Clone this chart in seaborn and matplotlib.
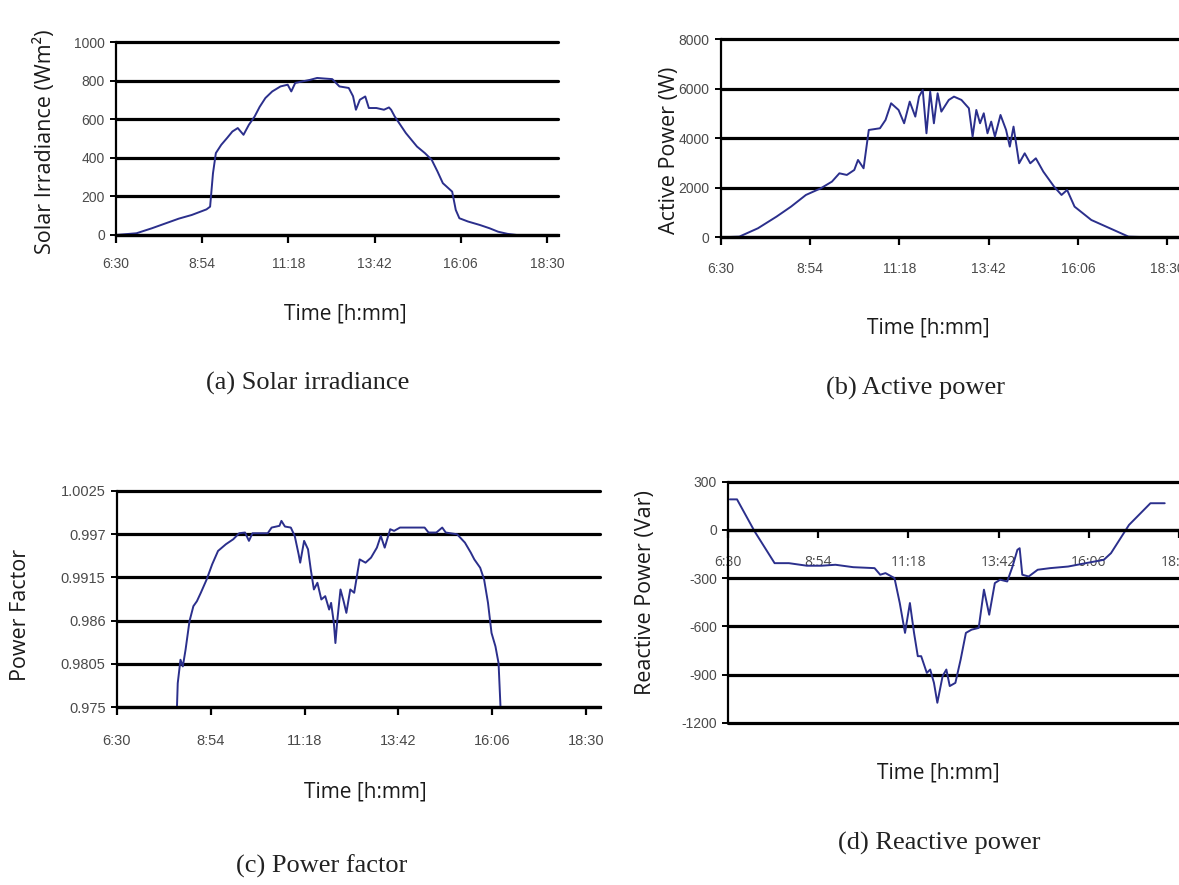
import matplotlib
matplotlib.use("Agg")
import matplotlib.pyplot as plt
import seaborn as sns
import pandas as pd

W, H = 1179, 885

# ---------------- data ----------------
time_ticks = [6.5, 8.9, 11.3, 13.7, 16.1, 18.5]
time_labels = ["6:30", "8:54", "11:18", "13:42", "16:06", "18:30"]

irr_time = [6.5, 7.07, 7.5, 7.89, 8.25, 8.61, 9.02, 9.12, 9.2, 9.28, 9.43, 9.6, 9.74,
            9.89, 10.05, 10.2, 10.36, 10.5, 10.66, 10.85, 11.08, 11.28, 11.38, 11.49,
            11.69, 11.9, 12.1, 12.3, 12.52, 12.72, 12.98, 13.1, 13.18, 13.29, 13.44,
            13.54, 13.75, 13.96, 14.1, 14.16, 14.26, 14.57, 14.88, 15.1, 15.29, 15.45,
            15.6, 15.86, 15.96, 16.06, 16.3, 16.63, 16.9, 17.14, 17.4, 17.66, 18.07]
irr_val = [0, 9, 35, 61, 85, 104, 133, 147, 320, 425, 468, 505, 537,
           555, 520, 572, 615, 665, 711, 745, 771, 780, 745, 789,
           797, 805, 815, 812, 809, 771, 763, 720, 650, 702, 719,
           659, 659, 650, 662, 650, 615, 529, 459, 425, 390, 330,
           269, 225, 130, 87, 70, 52, 35, 17, 6, 0, 0]

p_time = [6.5, 7.0, 7.5, 8.0, 8.39, 8.79, 9.19, 9.49, 9.69, 9.89, 10.09, 10.19, 10.34,
          10.48, 10.78, 10.93, 11.08, 11.28, 11.43, 11.58, 11.73, 11.83, 11.93, 12.03,
          12.13, 12.23, 12.33, 12.43, 12.63, 12.77, 12.97, 13.17, 13.27, 13.37, 13.47,
          13.57, 13.67, 13.77, 13.87, 14.02, 14.17, 14.27, 14.37, 14.52, 14.67, 14.82,
          14.97, 15.17, 15.46, 15.66, 15.81, 16.01, 16.46, 16.96, 17.46, 18.05]
p_val = [0, 27, 364, 835, 1239, 1711, 1980, 2250, 2586, 2519, 2721, 3125, 2788,
         4337, 4405, 4741, 5415, 5145, 4607, 5482, 4876, 5684, 5953, 4203,
         5886, 4607, 5819, 5078, 5550, 5684, 5550, 5213, 4068, 5145, 4607,
         5011, 4203, 4674, 4068, 4943, 4337, 3664, 4472, 2990, 3394, 2990,
         3192, 2654, 2047, 1711, 1913, 1239, 700, 364, 27, 0]

pf_time = [8.04, 8.06, 8.13, 8.19, 8.26, 8.36, 8.46, 8.55, 8.65, 8.80, 8.94, 9.09, 9.29,
           9.48, 9.63, 9.78, 9.88, 9.97, 10.36, 10.46, 10.66, 10.71, 10.80, 10.95, 11.05,
           11.15, 11.19, 11.29, 11.39, 11.46, 11.54, 11.63, 11.73, 11.83, 11.93, 11.98,
           12.05, 12.09, 12.14, 12.22, 12.30, 12.37, 12.47, 12.57, 12.71, 12.86, 13.0,
           13.15, 13.25, 13.35, 13.49, 13.59, 13.74, 13.88, 14.37, 14.47, 14.67, 14.82,
           14.91, 15.2, 15.4, 15.55, 15.64, 15.79, 15.89, 15.99, 16.08, 16.18, 16.26, 16.31]
pf_val = [0.975, 0.97806, 0.98104, 0.98019, 0.98231, 0.98592, 0.98784, 0.98847, 0.98954,
          0.99124, 0.99315, 0.99485, 0.9957, 0.99634, 0.9971, 0.99719, 0.99613, 0.9971,
          0.9971, 0.99782, 0.99804, 0.99867, 0.99795, 0.99782, 0.99676, 0.99442, 0.99336,
          0.99613, 0.99506, 0.99251, 0.98996, 0.99081, 0.98869, 0.98911, 0.98741, 0.98826,
          0.98571, 0.98316, 0.98613, 0.98996, 0.98847, 0.98699, 0.98996, 0.98954, 0.99378,
          0.99336, 0.994, 0.99527, 0.99676, 0.99527, 0.99761, 0.9974, 0.99782, 0.99782,
          0.99782, 0.99719, 0.99719, 0.99782, 0.99719, 0.99697, 0.99591, 0.99464, 0.99378,
          0.99272, 0.99124, 0.98826, 0.98444, 0.98274, 0.98061, 0.975]

q_time = [6.55, 6.74, 7.21, 7.74, 8.12, 8.6, 8.98, 9.36, 9.83, 10.4, 10.55, 10.69, 10.93,
          11.07, 11.21, 11.34, 11.45, 11.55, 11.64, 11.79, 11.88, 11.98, 12.07, 12.21,
          12.31, 12.4, 12.55, 12.69, 12.83, 12.98, 13.17, 13.31, 13.45, 13.6, 13.74,
          13.93, 14.07, 14.2, 14.26, 14.33, 14.5, 14.74, 15.07, 15.55, 16.02, 16.5,
          16.69, 17.17, 17.74, 18.12]
q_val = [190, 190, -10, -207, -207, -223, -223, -217, -232, -238, -279, -269, -300,
         -455, -641, -455, -641, -786, -786, -890, -869, -952, -1076, -910,
         -869, -972, -952, -807, -641, -621, -610, -372, -528, -331, -310,
         -321, -228, -124, -114, -279, -290, -248, -238, -228, -207, -186,
         -145, 31, 166, 166]

irr_ticks = [0, 200, 400, 600, 800, 1000]
p_ticks = [0, 2000, 4000, 6000, 8000]
pf_ticks = [0.975, 0.9805, 0.986, 0.9915, 0.997, 1.0025]
pf_tick_labels = ["0.975", "0.9805", "0.986", "0.9915", "0.997", "1.0025"]
q_ticks = [-1200, -900, -600, -300, 0, 300]

# ---------------- style ----------------
sns.set_theme(style="white")
plt.rcParams["font.family"] = ["Open Sans", "DejaVu Sans"]
LINE = "#2B2F8C"
TICKFONT = ["Liberation Sans", "DejaVu Sans"]
SERIF = ["Liberation Serif", "DejaVu Serif"]

fig = plt.figure(figsize=(W / 100, H / 100), dpi=100)
fig.patch.set_facecolor("white")


def add_ax(left, right, top, bottom):
    return fig.add_axes([left / W, 1 - bottom / H, (right - left) / W, (bottom - top) / H])


def style(ax, box, xlim, ylim, yticks, ylabels, ylab, ylab_xy, xlab_xy, xpad, tsize=10):
    left, right, top, bottom = box
    ax.set_xlim(*xlim)
    ax.set_ylim(*ylim)
    ax.set_xticks(time_ticks)
    ax.set_xticklabels(time_labels)
    ax.set_yticks(yticks)
    ax.set_yticklabels(ylabels)
    ax.grid(False)
    ax.yaxis.grid(True, color="black", lw=2.3)
    for gl in ax.get_ygridlines():
        gl.set_clip_on(False)
    ax.set_axisbelow(True)
    for s in ["top", "right"]:
        ax.spines[s].set_visible(False)
    ax.spines["left"].set_color("black")
    ax.spines["left"].set_linewidth(1.6)
    ax.spines["bottom"].set_color("black")
    ax.spines["bottom"].set_linewidth(2.3)
    ax.tick_params(axis="x", direction="out", length=6, width=1.6, color="black",
                   pad=xpad, labelsize=tsize, labelcolor="#4a4a4a", bottom=True)
    ax.tick_params(axis="y", direction="out", length=4, width=1.4, color="black",
                   pad=4, labelsize=tsize, labelcolor="#4a4a4a", left=True)
    for lab in ax.get_xticklabels() + ax.get_yticklabels():
        lab.set_family(TICKFONT)
    ax.set_ylabel(ylab, fontsize=15.5, color="#1a1a1a", va="center", ha="center")
    ax.set_xlabel("Time [h:mm]", fontsize=15, color="#1a1a1a", va="center", ha="center")
    ax.yaxis.set_label_coords((ylab_xy[0] - left) / (right - left),
                              (bottom - ylab_xy[1]) / (bottom - top))
    ax.xaxis.set_label_coords((xlab_xy[0] - left) / (right - left),
                              (bottom - xlab_xy[1]) / (bottom - top))


def hours_to_x(left, px_per_tick, right):
    return 6.5 + (right - left) / px_per_tick * 2.4


# (a) Solar irradiance
box_a = (116, 558, 42.3, 235)
ax_a = add_ax(*box_a)
sns.lineplot(data=pd.DataFrame({"t": irr_time, "v": irr_val}), x="t", y="v",
             ax=ax_a, color=LINE, lw=1.4, sort=False)
style(ax_a, box_a, (6.5, hours_to_x(116, 86.2, 558)), (0, 1000), irr_ticks,
      [str(v) for v in irr_ticks], "Solar Irradiance (Wm²)", (45, 142), (345, 314), 10)

# (b) Active power
box_b = (720.7, 1200, 39.3, 237.3)
ax_b = add_ax(*box_b)
sns.lineplot(data=pd.DataFrame({"t": p_time, "v": p_val}), x="t", y="v",
             ax=ax_b, color=LINE, lw=1.4, sort=False)
style(ax_b, box_b, (6.5, hours_to_x(720.7, 89.3, 1200)), (0, 8000), p_ticks,
      [str(v) for v in p_ticks], "Active Power (W)", (670, 150), (928, 328), 12)

# (c) Power factor
box_c = (116.7, 600, 490.7, 707.3)
ax_c = add_ax(*box_c)
sns.lineplot(data=pd.DataFrame({"t": pf_time, "v": pf_val}), x="t", y="v",
             ax=ax_c, color=LINE, lw=1.4, sort=False)
style(ax_c, box_c, (6.5, hours_to_x(116.7, 93.9, 600)), (0.975, 1.0025), pf_ticks,
      pf_tick_labels, "Power Factor", (21, 615), (365, 792), 13, tsize=10.5)

# (d) Reactive power
box_d = (728, 1200, 481.7, 722.7)
ax_d = add_ax(*box_d)
sns.lineplot(data=pd.DataFrame({"t": q_time, "v": q_val}), x="t", y="v",
             ax=ax_d, color=LINE, lw=1.4, sort=False)
style(ax_d, box_d, (6.5, hours_to_x(728, 90.2, 1200)), (-1200, 300), q_ticks,
      [str(v) for v in q_ticks], "Reactive Power (Var)", (645, 593), (938, 773), 12)
ax_d.spines["bottom"].set_position(("data", 0))

# captions
for txt, x, y in [("(a) Solar irradiance", 308, 383), ("(b) Active power", 916, 388),
                  ("(c) Power factor", 322, 866), ("(d) Reactive power", 939, 843)]:
    fig.text(x / W, 1 - y / H, txt, family=SERIF, fontsize=19, color="#222222",
             ha="center", va="center")

fig.savefig("out.png", dpi=100, facecolor="white")
